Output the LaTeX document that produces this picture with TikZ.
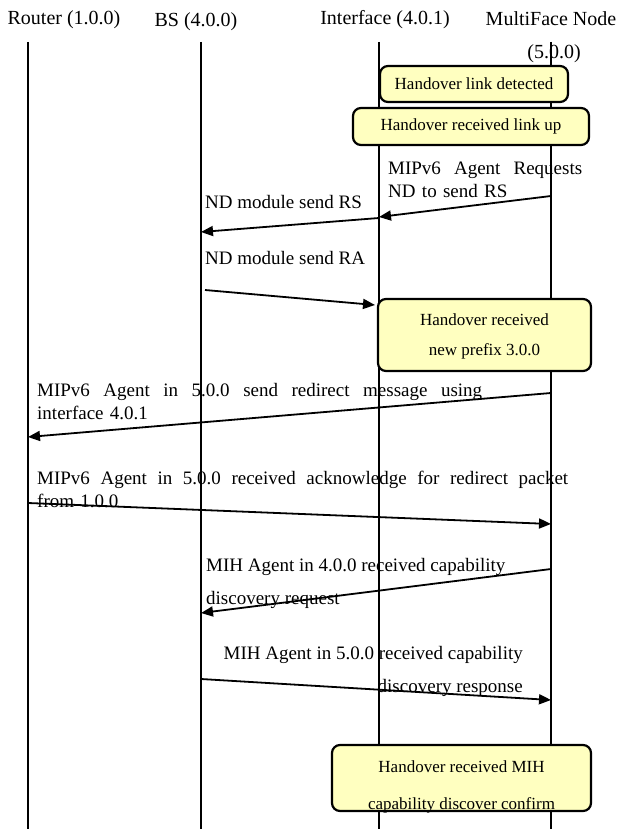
\documentclass[tikz,border=0pt]{standalone}
\usepackage{fontspec}
\setmainfont{Liberation Serif}
\usetikzlibrary{arrows.meta}
\definecolor{notefill}{RGB}{255,255,192}
\newcommand{\spreadline}[2]{\hbox to #1{#2}}

\begin{document}
\begin{tikzpicture}[x=1pt,y=-1pt,
    hdr/.style={font=\fontsize{20}{24}\selectfont,inner sep=0pt},
    life/.style={line width=1.8pt},
    note/.style={draw,line width=2.2pt,rounded corners=8pt,fill=notefill,
      font=\fontsize{17}{23}\selectfont,align=center,inner sep=0pt},
    msg/.style={line width=1.8pt,-{Triangle[length=12pt,width=10pt]}},
    lbl/.style={font=\fontsize{19}{23}\selectfont,inner sep=0pt,anchor=north west,align=left}]

      \useasboundingbox (0,0) rectangle (617,829);

      % entities
      \node[hdr] (rt) at (64,20) {Router (1.0.0)};
      \node[hdr] (bs) at (196,22) {BS (4.0.0)};
      \node[hdr] (ifc) at (385,20) {Interface (4.0.1)};
      \node[hdr,align=center] (mf) at (551,37) {MultiFace Node\\[9pt]\hspace*{6pt}(5.0.0)};

      % lifelines
      \foreach \n/\x in {r/28,b/201,i/379,m/551}{
        \coordinate (\n0) at (\x,42);
        \draw[life] (\n0) -- (\x,829);
      }

      \node[note,minimum width=188pt,minimum height=36pt] (b1) at (474,84) {Handover link detected};
      \node[note,minimum width=236pt,minimum height=37pt] (b2) at (471,126.5) {Handover received link up};
      \node[note,minimum width=213pt,minimum height=72pt] (b3) at (484.5,335) {\rule{0pt}{15pt}Handover received\\[7pt]new prefix 3.0.0};
      \node[note,minimum width=259pt,minimum height=66pt] (b4) at (461.5,778) {};
      \node[font=\fontsize{17}{23}\selectfont,align=center,inner sep=0pt] (b4t) at (461.5,786.5)
        {Handover received MIH\\[14pt]capability discover confirm};

      % messages
      \draw[msg] (m0 |- 0,196) -- (i0 |- 0,217);
      \node[lbl,text width=194pt] (l1) at (388,162)
        {\spreadline{194pt}{MIPv6\hfill Agent\hfill Requests}\\ND to send RS};

      \draw[msg] (i0 |- 0,218) -- (b0 |- 0,232);
      \node[lbl] (l2) at (205,195) {ND module send RS};

      \coordinate (ra) at (205,290);
      \draw[msg] (ra) -- (375,305);
      \node[lbl] (l3) at (205,251) {ND module send RA};

      \draw[msg] (m0 |- 0,393) -- (r0 |- 0,437);
      \node[lbl,text width=445pt] (l4) at (37,383)
        {\spreadline{445pt}{MIPv6\hfill Agent\hfill in\hfill 5.0.0\hfill send\hfill redirect\hfill message\hfill using}\\interface 4.0.1};

      \draw[msg] (r0 |- 0,503) -- (m0 |- 0,524);
      \node[lbl,text width=531pt] (l5) at (37,471)
        {\spreadline{531pt}{MIPv6\hfill Agent\hfill in\hfill 5.0.0\hfill received\hfill acknowledge\hfill for\hfill redirect\hfill packet}\\from 1.0.0};

      \draw[msg] (m0 |- 0,569) -- (b0 |- 0,613);
      \node[lbl] (l6) at (206,558) {MIH Agent in 4.0.0 received capability\\[10pt]discovery request};

      \draw[msg] (b0 |- 0,679) -- (m0 |- 0,700);
      \node[lbl,anchor=north east,align=right] (l7) at (523,646) {MIH Agent in 5.0.0 received capability\\[10pt]discovery response};

\end{tikzpicture}
\end{document}
